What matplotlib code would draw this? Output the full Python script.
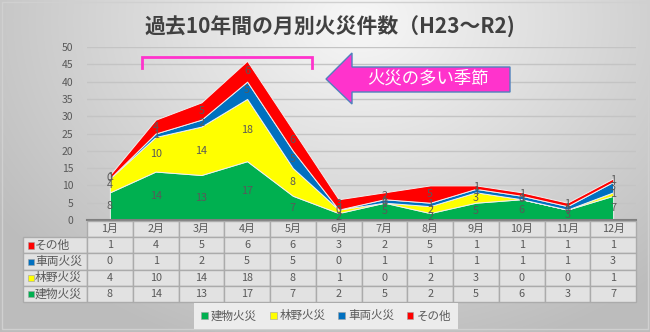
import numpy as np
import matplotlib
matplotlib.use("Agg")
import matplotlib.pyplot as plt
from matplotlib.patches import Rectangle, Polygon, Patch

plt.rcParams['font.family'] = ['Noto Sans CJK JP', 'DejaVu Sans']

months = ["1月", "2月", "3月", "4月", "5月", "6月", "7月", "8月", "9月", "10月", "11月", "12月"]
building = [8, 14, 13, 17, 7, 2, 5, 2, 5, 6, 3, 7]
forest = [4, 10, 14, 18, 8, 1, 0, 2, 3, 0, 0, 1]
vehicle = [0, 1, 2, 5, 5, 0, 1, 1, 1, 1, 1, 3]
other = [1, 4, 5, 6, 6, 3, 2, 5, 1, 1, 1, 1]
series_names = ["建物火災", "林野火災", "車両火災", "その他"]
colors = ["#00B050", "#FFFF00", "#0070C0", "#FF0000"]
title = "過去10年間の月別火災件数（H23～R2)"
callout = "火災の多い季節"

W, H = 650, 332
fig = plt.figure(figsize=(W / 100, H / 100), dpi=100)

# background gradient
bg = fig.add_axes([0, 0, 1, 1], zorder=0)
yy, xx = np.mgrid[0:H, 0:W]
d = np.sqrt(((xx - 360) / 420.0) ** 2 + ((yy - 20) / 330.0) ** 2)
g = np.clip(0.97 - 0.22 * d, 0.74, 0.97)
bg.imshow(np.dstack([g, g, g]), extent=(0, W, H, 0), aspect='auto')
bg.set_xlim(0, W); bg.set_ylim(H, 0); bg.axis('off')
bg.add_patch(Rectangle((2, 2), W - 4, H - 5, fill=False, ec='#d0d0d0', lw=1))

def fx(px):
    return px / W

def fy(py):
    return 1 - py / H

left, right, top, bottom = 87, 636, 47, 220
ax = fig.add_axes([fx(left), fy(bottom), fx(right - left), (bottom - top) / H], zorder=1)
ax.patch.set_alpha(0)
x = np.arange(len(months))
data = [building, forest, vehicle, other]
ax.stackplot(x, *data, colors=colors, edgecolor='#f0f0f0', linewidth=0.7, zorder=2)
ax.set_xlim(-0.5, len(months) - 0.5)
ax.set_ylim(0, 50)
ax.set_yticks(range(0, 51, 5))
ax.yaxis.grid(True, color='#c4c4c4', lw=1)
ax.set_axisbelow(True)
ax.tick_params(axis='y', length=0, pad=10, labelsize=7.5, labelcolor='#595959')
ax.set_xticks([])
for s in ['top', 'right', 'left']:
    ax.spines[s].set_visible(False)
ax.spines['bottom'].set_color('#7f7f7f')
ax.spines['bottom'].set_linewidth(1.5)

cum = np.zeros(len(months))
for vals in data:
    v = np.array(vals)
    for i in range(len(months)):
        ax.text(x[i], cum[i] + v[i] / 2, str(v[i]), ha='center', va='center',
                fontsize=7.8, color='#595959', zorder=5)
    cum += v

# data table
tab = fig.add_axes([fx(left), fy(302), fx(right - left), (302 - 221) / H], zorder=1)
tab.set_xlim(-0.5, len(months) - 0.5)
tab.set_ylim(5, 0)
tab.axis('off')
colw = 1.0
hdr_w = (left - 23) / ((right - left) / len(months))
rows = [("その他", other, colors[3]), ("車両火災", vehicle, colors[2]),
        ("林野火災", forest, colors[1]), ("建物火災", building, colors[0])]
ec = '#ababab'
for i, m in enumerate(months):
    tab.add_patch(Rectangle((i - 0.5, 0), colw, 1, fc='#e2e2e2', ec=ec, lw=1, clip_on=False))
    tab.text(i, 0.5, m, ha='center', va='center', fontsize=7.8, color='#595959')
for r, (name, vals, c) in enumerate(rows, start=1):
    tab.add_patch(Rectangle((-0.5 - hdr_w, r), hdr_w, 1, fc='#e2e2e2', ec=ec, lw=1, clip_on=False))
    tab.add_patch(Rectangle((-0.5 - hdr_w + 0.11, r + 0.32), 0.13, 0.4, fc=c, ec='#a0a0a0', lw=0.4, clip_on=False))
    tab.text(-0.5 - hdr_w + 0.26, r + 0.5, name, ha='left', va='center', fontsize=8.5, color='#595959', clip_on=False)
    for i, v in enumerate(vals):
        tab.add_patch(Rectangle((i - 0.5, r), colw, 1, fc='#e2e2e2', ec=ec, lw=1, clip_on=False))
        tab.text(i, r + 0.5, str(v), ha='center', va='center', fontsize=7.8, color='#595959')

# legend
handles = [Patch(fc=c, ec='#a0a0a0', lw=0.4, label=n) for c, n in zip(colors, series_names)]
leg = fig.legend(handles=handles, loc='center', bbox_to_anchor=(fx(326), fy(316)), ncol=4,
                 fontsize=8.3, frameon=True, handlelength=0.6, handleheight=0.6,
                 handletextpad=0.25, columnspacing=1.1, borderpad=0.3)
leg.get_frame().set_facecolor('#ececec')
leg.get_frame().set_edgecolor('none')
leg.get_frame().set_alpha(1)
leg.get_frame().set_boxstyle('square', pad=0.3)
for t in leg.get_texts():
    t.set_color('#595959')

# overlay annotations
ov = fig.add_axes([0, 0, 1, 1], zorder=3)
ov.set_xlim(0, W); ov.set_ylim(H, 0); ov.axis('off')
ov.plot([142, 142, 312, 312], [68, 57, 57, 68], color='#FF33CC', lw=2, solid_joinstyle='miter')
arrow = Polygon([(326, 79), (352, 53), (352, 67), (510, 67), (510, 92), (352, 92), (352, 104)],
                closed=True, fc='#FF33CC', ec='#4f81bd', lw=1)
ov.add_patch(arrow)
ov.text(428, 79, callout, ha='center', va='center', fontsize=12.5, color='white')
ov.text(330, 27, title, ha='center', va='center', fontsize=15, fontweight='bold', color='#404040')

fig.savefig('out.png', dpi=100)
